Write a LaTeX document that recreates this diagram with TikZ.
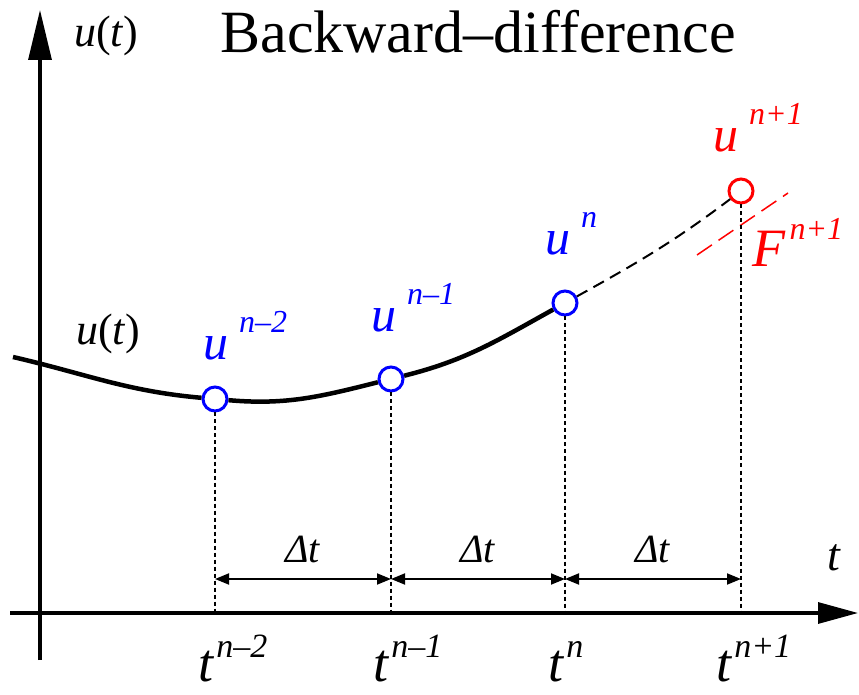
\documentclass[tikz,border=0pt]{standalone}
\usepackage{fontspec}
\setmainfont{Liberation Serif}
\usetikzlibrary{arrows.meta, positioning}

\newcommand{\ulab}[1]{{\fontsize{50}{50}\selectfont\textit{u}}\hspace{11pt}\raisebox{27pt}{\fontsize{32}{32}\selectfont\textit{#1}}}
\newcommand{\tlab}[1]{{\fontsize{54}{54}\selectfont\textit{t}}\hspace{2pt}\raisebox{24pt}{\fontsize{34}{34}\selectfont\textit{#1}}}
\newcommand{\flab}[1]{{\fontsize{54}{54}\selectfont\textit{F}}\hspace{4pt}\raisebox{27pt}{\fontsize{32}{32}\selectfont\textit{#1}}}

\begin{document}
\begin{tikzpicture}[x=1pt, y=1pt,
  sample/.style={circle, draw=blue, line width=3pt, fill=white, minimum size=24pt, inner sep=0pt},
  axis/.style={line width=3.2pt},
  curve/.style={line width=4.5pt},
  guide/.style={line width=1.3pt, dash pattern=on 4pt off 3pt},
  dim/.style={line width=1.8pt, {Triangle[length=14pt,width=11pt]}-{Triangle[length=14pt,width=11pt]}},
  lab/.style={anchor=base west, inner sep=0pt}]
\useasboundingbox (0,0) rectangle (859,694);

% axes
\coordinate (o) at (40,81);
\coordinate (xbeg) at (10,81);
\coordinate (xend) at (858,81);
\coordinate (ybeg) at (40,34);
\coordinate (yend) at (40,684);
\draw[axis, -{Triangle[length=40pt,width=21pt]}] (xbeg) -- (xend);
\draw[axis, -{Triangle[length=50pt,width=23pt]}] (ybeg) -- (yend);
\node[lab] at (74,647) {\fontsize{44}{44}\selectfont\textit{u}(\textit{t})};
\node[inner sep=0pt] at (834,136) {\fontsize{46}{46}\selectfont\textit{t}};
\node[anchor=base, inner sep=0pt] (title) at (478,641) {\fontsize{60}{60}\selectfont Backward–difference};

% sample points
\node[sample] (p2) at (215,295) {};
\node[sample] (p1) at (391,315) {};
\node[sample] (p0) at (565,391) {};
\node[sample, draw=red] (pp) at (741,503) {};

% u(t) curve
\coordinate (s) at (13,337);
\draw[curve] (s) to[out=-13,in=175] (p2) to[out=-5,in=194] (p1) to[out=14,in=209] (p0);
\draw[line width=2pt, dash pattern=on 12pt off 7pt] (p0) to[out=29,in=217] (pp);
\node[lab] at (76,349) {\fontsize{44}{44}\selectfont\textit{u}(\textit{t})};

% tangent F
\coordinate (f1) at (697,439);
\coordinate (f2) at (788,501);
\draw[red, line width=1.5pt, dash pattern=on 18pt off 8pt] (f1) -- (f2);
\node[lab, red] at (752,427) {\flab{n+1}};

% labels of the points
\node[lab, blue] at (203,334) {\ulab{n–2}};
\node[lab, blue] at (371,362) {\ulab{n–1}};
\node[lab, blue] at (545,439) {\ulab{n}};
\node[lab, red] at (713,542) {\ulab{n+1}};

% guides down to the axis
\draw[guide] (p2) -- (p2 |- o);
\draw[guide] (p1) -- (p1 |- o);
\draw[guide] (p0) -- (p0 |- o);
\draw[guide] (pp) -- (pp |- o);

% time steps
\path (p2 |- 0,115) coordinate (a2);
\path (p1 |- 0,115) coordinate (a1);
\path (p0 |- 0,115) coordinate (a0);
\path (pp |- 0,115) coordinate (ap);
\draw[dim] (a2) -- node[anchor=base, yshift=17pt, inner sep=0pt] {\fontsize{40}{40}\selectfont\textit{Δt}} (a1);
\draw[dim] (a1) -- node[anchor=base, yshift=17pt, inner sep=0pt] {\fontsize{40}{40}\selectfont\textit{Δt}} (a0);
\draw[dim] (a0) -- node[anchor=base, yshift=17pt, inner sep=0pt] {\fontsize{40}{40}\selectfont\textit{Δt}} (ap);

% time labels
\node[lab] at (198,13) {\tlab{n–2}};
\node[lab] at (373,13) {\tlab{n–1}};
\node[lab] at (548,13) {\tlab{n}};
\node[lab] at (716,13) {\tlab{n+1}};
\end{tikzpicture}
\end{document}
